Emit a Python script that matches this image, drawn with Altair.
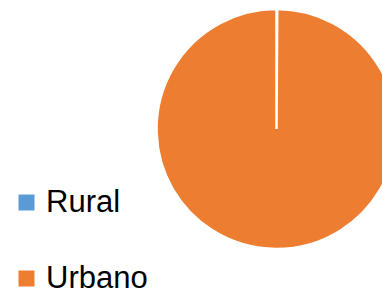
import altair as alt
import pandas as pd

categories = ["Rural", "Urbano"]
values = [0.1, 99.9]
colors = ["#5B9BD5", "#ED7D31"]

df = pd.DataFrame({"Zona": categories, "Valor": values})

chart = alt.Chart(df).mark_arc(outerRadius=120, stroke="white", strokeWidth=2.5).encode(
    theta=alt.Theta("Valor:Q", stack=True),
    color=alt.Color(
        "Zona:N",
        scale=alt.Scale(domain=categories, range=colors),
        legend=alt.Legend(
            title=None, orient="none", legendX=3, legendY=179,
            symbolType="square", symbolSize=256, symbolStrokeWidth=0,
            labelFontSize=31, labelFont="Liberation Sans", labelColor="black",
            rowPadding=44, labelOffset=4, padding=0,
        ),
    ),
    order=alt.Order("Zona:N"),
    x=alt.value(268.5),
    y=alt.value(121),
).properties(width=374, height=286, padding=0, autosize="none").configure_view(stroke=None)

chart.save("out.html", embed_options={"renderer": "svg", "actions": False})
